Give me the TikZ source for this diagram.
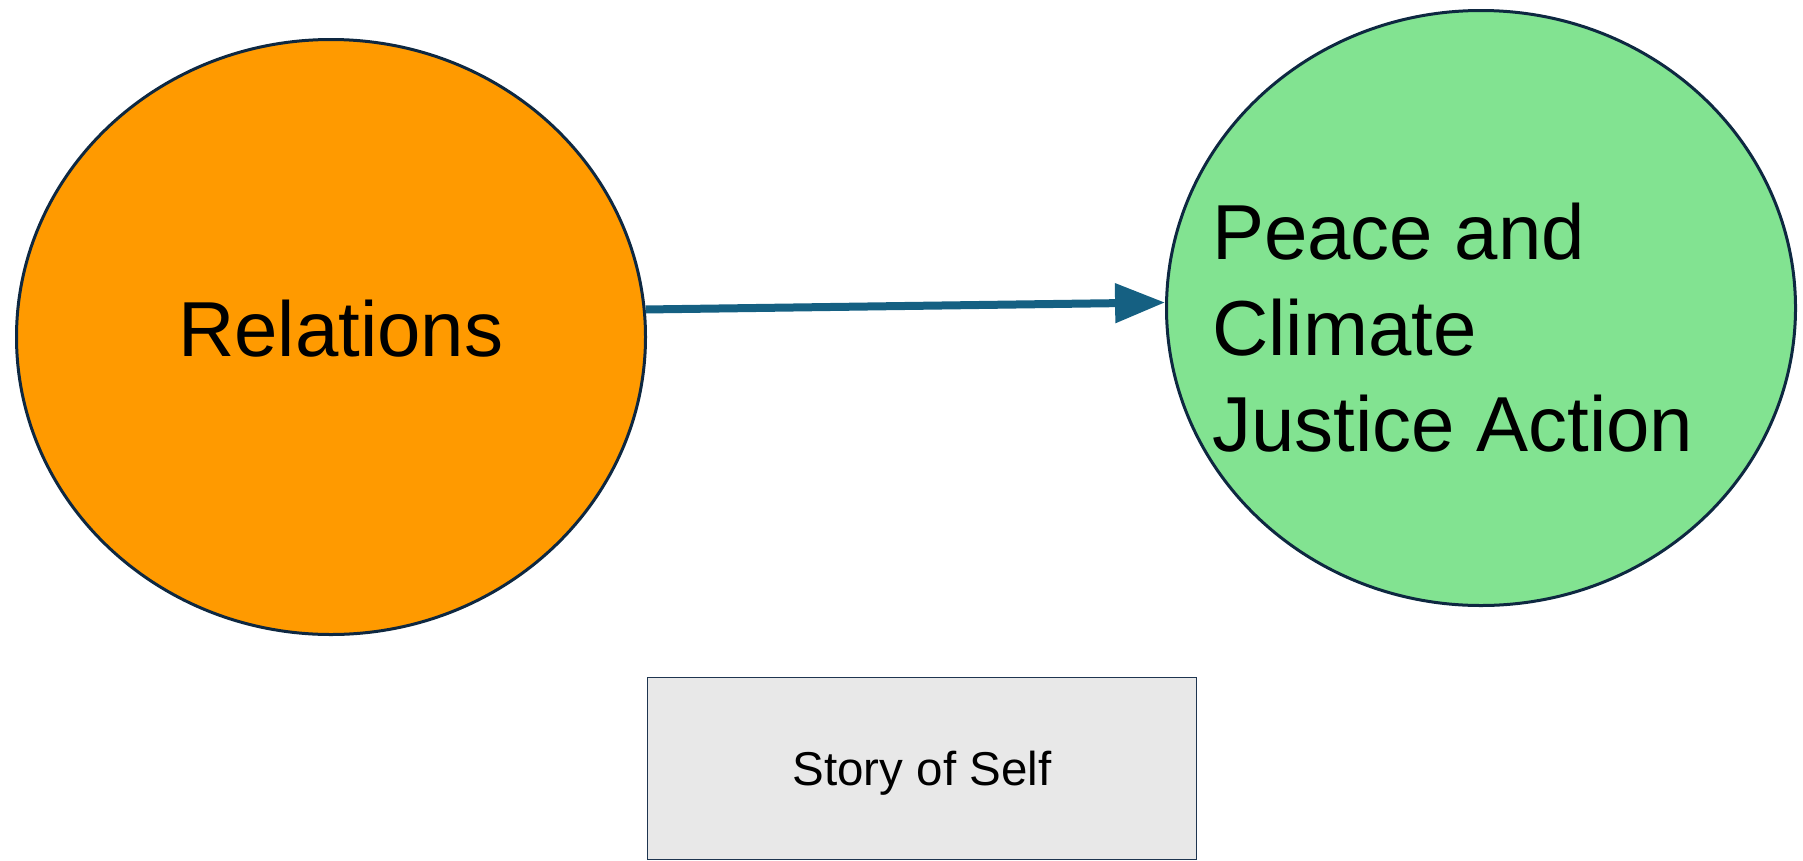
\documentclass[tikz,border=0pt]{standalone}
\usepackage{fontspec}
\setmainfont{Liberation Sans}
\usetikzlibrary{shapes.geometric,arrows.meta}
\definecolor{edgenavy}{HTML}{0E2841}
\definecolor{orangefill}{HTML}{FF9A00}
\definecolor{greenfill}{HTML}{82E391}
\definecolor{arrowblue}{HTML}{156082}
\definecolor{boxgray}{HTML}{E8E8E8}
\definecolor{boxedge}{HTML}{1E3550}
\tikzset{
  bubble/.style={ellipse, draw=edgenavy, line width=3pt, inner sep=0pt,
                 minimum width=629pt, minimum height=595pt},
  bigtext/.style={inner sep=0pt, font=\fontsize{78}{96}\selectfont},
  flowarrow/.style={draw=arrowblue, line width=8pt,
                    -{Triangle[length=50pt,width=38pt]}},
  notebox/.style={rectangle, draw=boxedge, fill=boxgray, line width=1.8pt,
                  minimum width=549pt, minimum height=182pt, inner sep=0pt,
                  font=\fontsize{47.5}{57}\selectfont,
                  text height=34pt, text depth=0pt}
}
\begin{document}
\begin{tikzpicture}[x=1pt,y=-1pt]
  \useasboundingbox (0,0) rectangle (1803,860);
  % two ellipses
  \node[bubble, fill=orangefill] (rel) at (331,337) {};
  \node[bubble, fill=greenfill] (pca) at (1481,308) {};
  % their labels (the base anchor of the three-line label sits on its last line)
  \node[bigtext, anchor=base west] (reltext) at (178,356) {Relations};
  \node[bigtext, anchor=base west, align=left] (pcatext) at (1212,451)
    {Peace and\\Climate\\Justice Action};
  % connector
  \draw[flowarrow] (rel.5) -- (pca.179.5);
  % box at the bottom
  \node[notebox] (self) at (922,768.5) {Story of Self};
\end{tikzpicture}
\end{document}
